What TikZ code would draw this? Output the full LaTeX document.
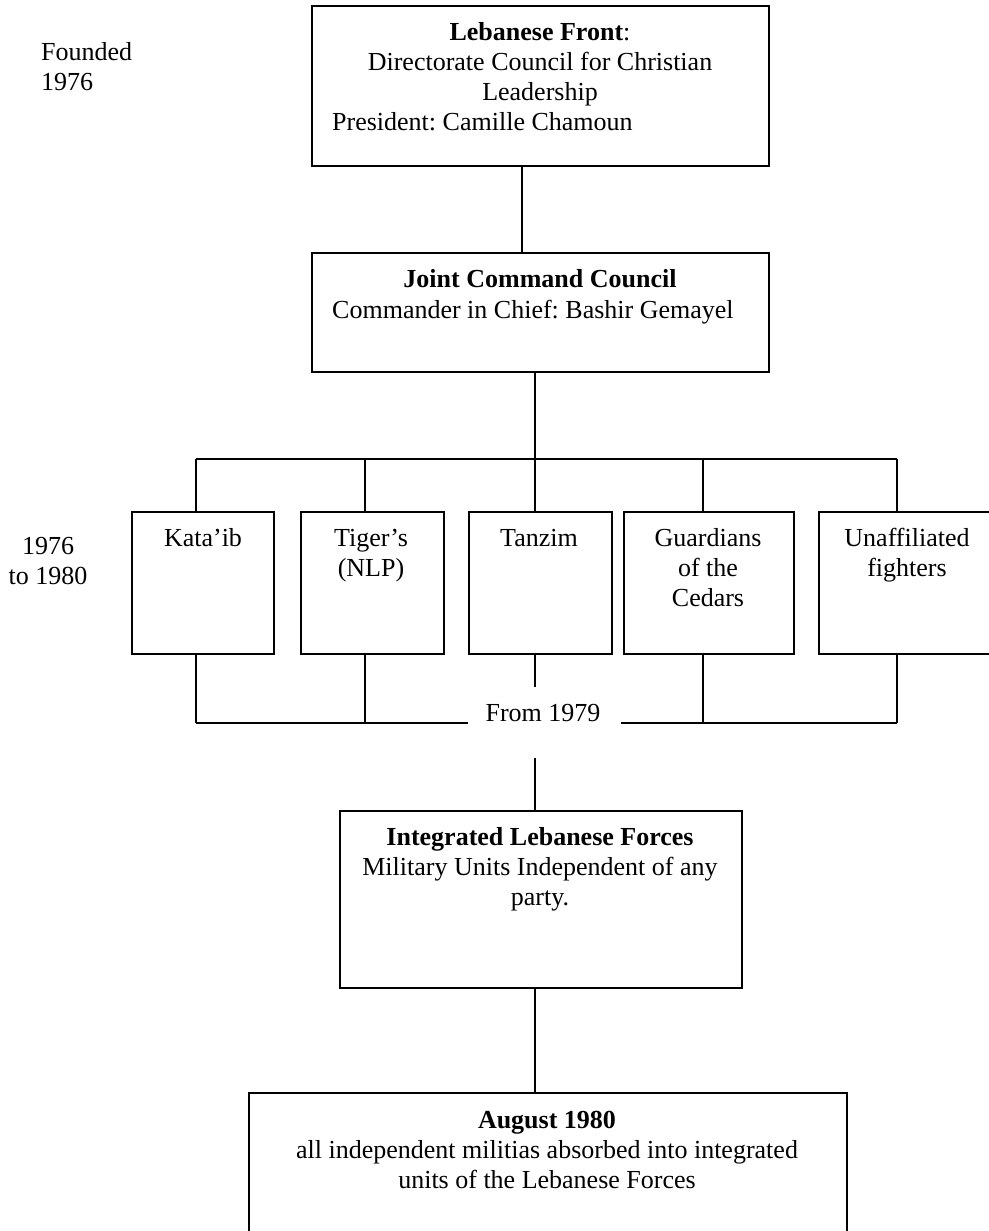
\documentclass[tikz,border=0pt]{standalone}
\usepackage{fontspec}
\setmainfont{Liberation Serif}
\frenchspacing
\newcommand\fl{\rule{0pt}{19pt}}
\begin{document}
\begin{tikzpicture}[x=1pt,y=-1pt,
  box/.style={draw, line width=1.5pt, inner sep=0pt, outer sep=0pt, anchor=north west},
  txt/.style={inner sep=0pt, align=center, anchor=north, font=\fontsize{26}{30}\selectfont},
  ltxt/.style={inner sep=0pt, anchor=base west, font=\fontsize{26}{30}\selectfont},
  conn/.style={line width=1.5pt}]
\fill[white] (0,0) rectangle (988,1231);
\useasboundingbox (0,0) rectangle (988,1231);

% side labels
\node[txt, align=left, anchor=north west] (fnd) at (41,41) {\fl Founded\\1976};
\node[txt] (yrs) at (48,535) {\fl 1976\\to 1980};

% top box
\node[box, minimum width=457pt, minimum height=160pt] (tb) at (312,6) {};
\node[txt] (tbt) at (540,21) {\fl\textbf{Lebanese Front}:\\Directorate Council for Christian\\Leadership};
\node[ltxt] (tbp) at (332,130) {President: Camille Chamoun};

% joint command
\node[box, minimum width=457pt, minimum height=119pt] (jc) at (312,253) {};
\node[txt] (jct) at (540,268) {\fl\textbf{Joint Command Council}};
\node[ltxt] (jcp) at (332,318) {Commander in Chief: Bashir Gemayel};

% militia boxes
\node[box, minimum width=142pt, minimum height=142pt] (kat) at (132,512) {};
\node[box, minimum width=143pt, minimum height=142pt] (tig) at (301,512) {};
\node[box, minimum width=143pt, minimum height=142pt] (tan) at (469,512) {};
\node[box, minimum width=170pt, minimum height=142pt] (grd) at (624,512) {};
\node[box, minimum width=177pt, minimum height=142pt] (unf) at (819,512) {};
\node[txt] (katt) at (203,527) {\fl Kata'ib};
\node[txt] (tigt) at (371,527) {\fl Tiger's\\(NLP)};
\node[txt] (tant) at (539,527) {\fl Tanzim};
\node[txt] (grdt) at (708,527) {\fl Guardians\\of the\\Cedars};
\node[txt] (unft) at (907,527) {\fl Unaffiliated\\fighters};

% integrated forces
\node[box, minimum width=402pt, minimum height=177pt] (ilf) at (340,811) {};
\node[txt] (ilft) at (540,826) {\fl\textbf{Integrated Lebanese Forces}\\Military Units Independent of any\\party.};

% August 1980
\node[box, minimum width=598pt, minimum height=200pt] (aug) at (249,1093) {};
\node[txt] (augt) at (547,1109) {\fl\textbf{August 1980}\\all independent militias absorbed into integrated\\units of the Lebanese Forces};

% From 1979
\node[txt] (f79) at (543,702) {\fl From 1979};

% coordinates
\coordinate (x522) at (522,0);
\coordinate (spine) at (535,0);
\coordinate (barL) at (196,459);
\coordinate (barR) at (897,459);
\coordinate (dk) at (196,0);
\coordinate (dt) at (365,0);
\coordinate (dg) at (703,0);
\coordinate (du) at (897,0);
\coordinate (bbL) at (468,723);
\coordinate (bbR) at (621,723);
\coordinate (gapTop) at (535,687);
\coordinate (gapBot) at (535,758);

% connectors
\draw[conn] (tb.south -| x522) -- (jc.north -| x522);
\draw[conn] (jc.south -| spine) -- (spine |- barL);
\draw[conn] (barL) -- (barR);
\draw[conn] (dk |- barL) -- (dk |- kat.north);
\draw[conn] (dt |- barL) -- (dt |- tig.north);
\draw[conn] (spine |- barL) -- (tan.north -| spine);
\draw[conn] (dg |- barL) -- (dg |- grd.north);
\draw[conn] (du |- barL) -- (du |- unf.north);

\draw[conn] (dk |- kat.south) -- (dk |- bbL);
\draw[conn] (dt |- tig.south) -- (dt |- bbL);
\draw[conn] (dg |- grd.south) -- (dg |- bbR);
\draw[conn] (du |- unf.south) -- (du |- bbR);
\draw[conn] (dk |- bbL) -- (bbL);
\draw[conn] (bbR) -- (du |- bbR);
\draw[conn] (tan.south -| spine) -- (gapTop);
\draw[conn] (gapBot) -- (ilf.north -| spine);
\draw[conn] (ilf.south -| spine) -- (aug.north -| spine);
\end{tikzpicture}
\end{document}
